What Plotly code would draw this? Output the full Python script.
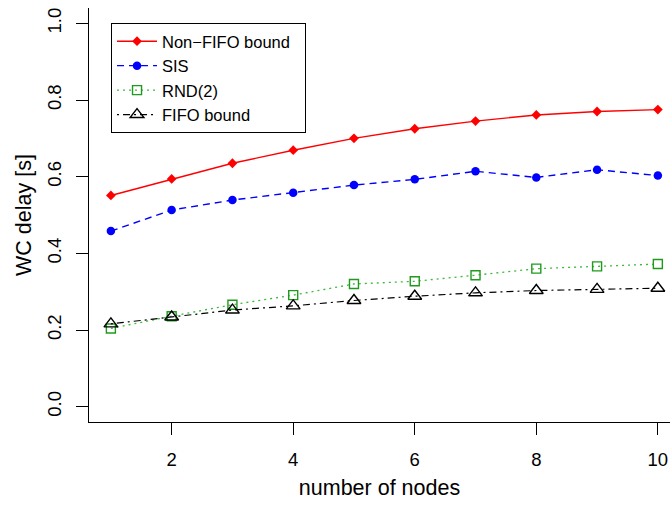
import plotly.graph_objects as go

nodes = [1, 2, 3, 4, 5, 6, 7, 8, 9, 10]
non_fifo = [0.551, 0.594, 0.635, 0.669, 0.700, 0.725, 0.745, 0.761, 0.770, 0.775]
sis = [0.458, 0.513, 0.539, 0.558, 0.578, 0.593, 0.614, 0.598, 0.618, 0.603]
rnd2 = [0.204, 0.236, 0.266, 0.291, 0.320, 0.327, 0.343, 0.360, 0.366, 0.372]
fifo = [0.216, 0.234, 0.252, 0.263, 0.277, 0.288, 0.297, 0.303, 0.306, 0.309]

x_ticks = [2, 4, 6, 8, 10]
y_ticks = [0.0, 0.2, 0.4, 0.6, 0.8, 1.0]
y_tick_labels = ["0.0", "0.2", "0.4", "0.6", "0.8", "1.0"]

FONT = "Liberation Sans, Arial, Helvetica, sans-serif"
GREEN = "#1f9a1f"

fig = go.Figure()
fig.add_trace(go.Scatter(
    x=nodes, y=non_fifo, name="Non\u2212FIFO bound\u00a0\u00a0", mode="lines+markers",
    line=dict(color="red", width=1.4),
    marker=dict(symbol="diamond", size=7.5, color="red"),
))
fig.add_trace(go.Scatter(
    x=nodes, y=sis, name="SIS", mode="lines+markers",
    line=dict(color="blue", width=1.4, dash="7px,5px"),
    marker=dict(symbol="circle", size=8.5, color="blue"),
))
fig.add_trace(go.Scatter(
    x=nodes, y=rnd2, name="RND(2)", mode="lines+markers",
    line=dict(color="#3cb83c", width=1.3, dash="2px,4px"),
    marker=dict(symbol="square-open", size=9, color=GREEN, line=dict(width=1.4, color=GREEN)),
))
fig.add_trace(go.Scatter(
    x=nodes, y=fifo, name="FIFO bound", mode="lines+markers",
    line=dict(color="black", width=1.2, dash="2px,4px,7px,4px"),
    marker=dict(symbol="triangle-up-open", size=12, color="black", line=dict(width=1.4, color="black")),
))

axis_common = dict(
    showgrid=False, zeroline=False, showline=True, linecolor="black", linewidth=1,
    ticks="outside", ticklen=12, tickcolor="black", tickwidth=1,
    mirror=False,
)

fig.update_layout(
    width=670, height=506,
    margin=dict(l=89, r=0, t=8, b=84, pad=0),
    paper_bgcolor="white", plot_bgcolor="white",
    font=dict(family=FONT, color="black"),
    xaxis=dict(
        range=[0.64, 10.2], tickvals=x_ticks, ticktext=[str(v) for v in x_ticks],
        tickfont=dict(size=18.5), ticklabelstandoff=9,
        title=dict(text="number of nodes", font=dict(size=21.5), standoff=10),
        **axis_common,
    ),
    yaxis=dict(
        range=[-0.04, 1.04], tickvals=y_ticks, ticktext=y_tick_labels,
        tickangle=-90, tickfont=dict(size=18.5), ticklabelstandoff=8,
        title=dict(text="WC delay [s]", font=dict(size=21.5), standoff=6),
        **axis_common,
    ),
    showlegend=True,
    legend=dict(
        x=0.0379, y=0.9638, xanchor="left", yanchor="top",
        bgcolor="white", bordercolor="black", borderwidth=1,
        font=dict(size=16.5, family=FONT), tracegroupgap=0, itemwidth=40,
    ),
)

fig.write_html("out.html")
